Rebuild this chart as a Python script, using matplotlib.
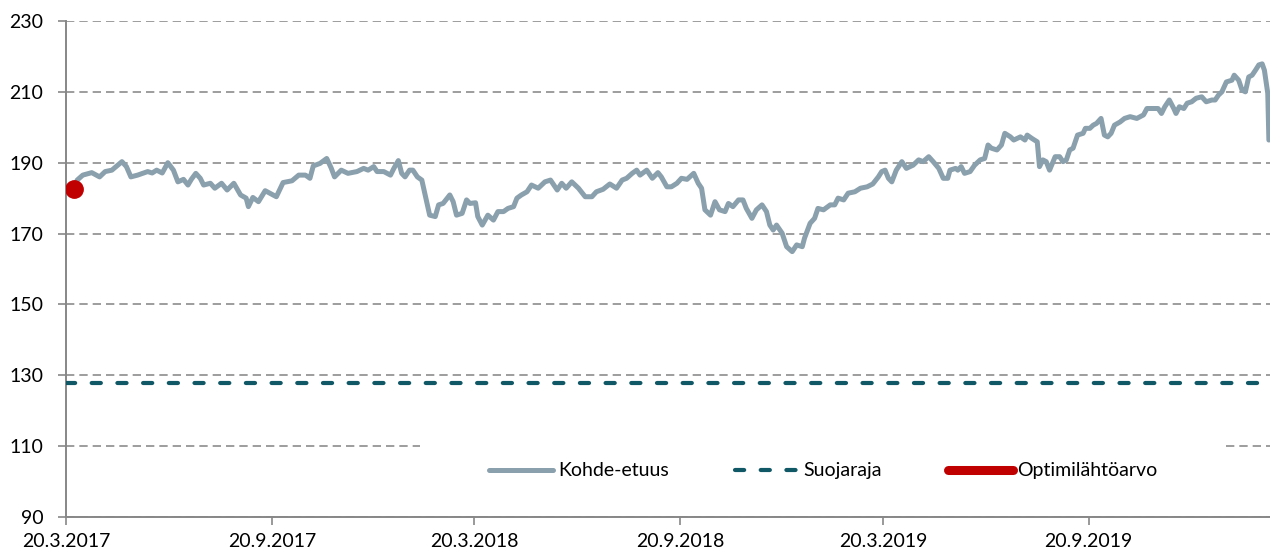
import matplotlib
matplotlib.use('Agg')
import matplotlib.pyplot as plt
from matplotlib.lines import Line2D
from matplotlib.patches import Rectangle
import pandas as pd

plt.rcParams['font.family'] = ['Lato', 'DejaVu Sans']
plt.rcParams['lines.scale_dashes'] = False

# ---------------- data ----------------
start_date = '2017-03-20'
end_date = '2020-02-29'

day_offsets = [
    7, 10, 15, 23, 30, 35, 41, 50, 54, 58, 64, 73, 77, 81, 86, 91, 96, 100, 105, 109,
    112, 116, 120, 123, 129, 133, 139, 144, 150, 156, 161, 163, 167, 172, 178, 185, 188, 194, 202, 208,
    214, 218, 221, 227, 233, 237, 240, 246, 252, 260, 266, 270, 275, 278, 284, 290, 293, 297, 300, 303,
    307, 310, 314, 318, 322, 325, 330, 333, 337, 343, 346, 349, 354, 358, 361, 366, 368, 372, 377, 382,
    386, 391, 395, 400, 403, 407, 412, 416, 422, 428, 433, 439, 443, 447, 452, 458, 464, 470, 474, 480,
    486, 492, 497, 501, 506, 510, 513, 519, 524, 529, 532, 537, 541, 546, 550, 555, 561, 565, 568, 571,
    576, 580, 584, 589, 592, 596, 601, 605, 608, 613, 617, 622, 626, 629, 632, 635, 640, 644, 649, 653,
    658, 660, 665, 669, 672, 677, 683, 687, 690, 695, 699, 705, 710, 716, 721, 726, 729, 732, 735, 738,
    742, 747, 751, 757, 762, 766, 771, 775, 780, 784, 788, 790, 795, 797, 800, 803, 808, 812, 817, 821,
    824, 827, 832, 836, 839, 844, 847, 853, 857, 859, 863, 868, 870, 873, 876, 879, 884, 888, 891, 894,
    897, 900, 904, 909, 911, 915, 918, 921, 925, 928, 931, 934, 937, 942, 946, 951, 957, 963, 966, 972,
    976, 979, 982, 986, 990, 992, 995, 999, 1002, 1006, 1010, 1015, 1019, 1024, 1027, 1030, 1033, 1037, 1042, 1044,
    1048, 1051, 1054, 1057, 1060, 1063, 1066, 1069, 1071, 1074, 1075,
]

underlying = [
    182.5, 185.1, 186.5, 187.2, 186.0, 187.5, 187.9, 190.3, 188.9, 186.0, 186.5, 187.5, 187.1, 187.9, 187.1, 190.0, 187.9, 184.6, 185.3, 183.7,
    185.3, 187.0, 185.6, 183.7, 184.2, 182.8, 184.2, 182.3, 184.2, 180.9, 180.0, 177.6, 180.2, 179.0, 182.1, 180.9, 180.4, 184.4, 184.9, 186.5,
    186.5, 185.6, 189.1, 189.8, 191.2, 188.5, 186.0, 187.9, 187.0, 187.5, 188.4, 187.9, 188.9, 187.5, 187.5, 186.5, 188.4, 190.6, 187.0, 186.0,
    187.9, 187.9, 186.0, 185.1, 179.5, 175.2, 174.8, 178.1, 178.5, 180.9, 179.0, 175.2, 175.7, 179.5, 178.5, 178.7, 174.8, 172.4, 175.2, 173.8,
    176.2, 176.2, 177.1, 177.6, 180.0, 180.9, 181.8, 183.7, 182.8, 184.6, 185.1, 182.3, 184.2, 182.8, 184.6, 182.8, 180.4, 180.4, 181.8, 182.5,
    184.0, 182.8, 185.1, 185.6, 187.0, 187.9, 186.5, 187.9, 185.6, 187.2, 186.0, 183.2, 183.2, 184.2, 185.6, 185.3, 187.0, 184.2, 182.8, 176.7,
    175.2, 179.0, 176.7, 176.2, 178.5, 177.6, 179.5, 179.5, 177.1, 174.3, 176.7, 178.1, 176.2, 172.4, 171.0, 172.4, 170.1, 166.3, 164.9, 166.8,
    166.3, 168.7, 172.9, 174.3, 177.1, 176.7, 178.1, 178.1, 180.0, 179.5, 181.4, 181.8, 182.8, 183.2, 184.0, 186.0, 187.5, 187.9, 185.6, 184.6,
    187.9, 190.3, 188.4, 189.3, 190.8, 190.3, 191.7, 190.3, 188.4, 185.6, 185.6, 187.9, 188.4, 187.9, 188.9, 187.0, 187.5, 189.3, 190.8, 191.2,
    195.0, 194.1, 193.6, 195.0, 198.3, 197.3, 196.4, 197.3, 196.4, 197.8, 196.9, 195.9, 188.9, 190.8, 190.3, 187.9, 191.7, 191.7, 190.3, 190.8,
    193.6, 194.1, 197.8, 198.3, 199.7, 199.7, 200.6, 201.1, 202.5, 197.8, 197.3, 198.3, 200.6, 201.5, 202.5, 203.0, 202.5, 203.5, 205.3, 205.3,
    205.3, 203.9, 205.8, 207.7, 205.3, 203.9, 205.8, 205.3, 206.8, 207.2, 208.2, 208.6, 207.2, 207.7, 207.7, 209.1, 210.0, 212.8, 213.3, 214.7,
    213.3, 210.5, 210.0, 214.2, 214.7, 216.1, 217.6, 217.9, 216.1, 209.6, 196.4,
]

barrier_level = 127.75
initial_day = 7
initial_value = 182.5

y_ticks = [90, 110, 130, 150, 170, 190, 210, 230]
x_tick_dates = ['2017-03-20', '2017-09-20', '2018-03-20', '2018-09-20', '2019-03-20', '2019-09-20']
x_tick_labels = ['20.3.2017', '20.9.2017', '20.3.2018', '20.9.2018', '20.3.2019', '20.9.2019']
series_names = ['Kohde-etuus', 'Suojaraja', 'Optimilähtöarvo']

# ---------------- styles ----------------
c_line = '#8aa0ad'
c_barrier = '#115867'
c_red = '#c00000'
c_axis = '#878787'
c_grid = '#8c8c8c'

t0 = pd.Timestamp(start_date)
dates = t0 + pd.to_timedelta(day_offsets, unit='D')
init_date = t0 + pd.Timedelta(days=initial_day)

fig = plt.figure(figsize=(12.7, 5.55), dpi=100)
ax = fig.add_axes([66 / 1270, 1 - 517 / 555, (1270 - 66) / 1270, (517 - 21) / 555])

ax.plot(dates, underlying, color=c_line, lw=3.6, solid_joinstyle='round',
        solid_capstyle='round', zorder=3)
ax.axhline(barrier_level, color=c_barrier, lw=3.0, linestyle=(0, (6.6, 11.9)),
           dash_capstyle='round', zorder=3)
ax.plot([init_date], [initial_value], 'o', color=c_red, ms=12.5, zorder=4)

ax.set_xlim(t0, pd.Timestamp(end_date))
ax.set_ylim(y_ticks[0], y_ticks[-1])
ax.set_yticks(y_ticks)
ax.set_xticks(pd.to_datetime(x_tick_dates))
ax.set_xticklabels(x_tick_labels)

ax.yaxis.grid(True, color=c_grid, lw=1.2, linestyle=(0, (6, 3.6)))
ax.set_axisbelow(True)

for s in ['top', 'right']:
    ax.spines[s].set_visible(False)
for s in ['left', 'bottom']:
    ax.spines[s].set_color(c_axis)
    ax.spines[s].set_linewidth(1.4)

ax.tick_params(axis='y', length=5.8, width=1.2, color=c_axis, pad=10.5,
               labelsize=14, labelcolor='black')
ax.tick_params(axis='x', length=5.8, width=1.2, color=c_axis, pad=6,
               labelsize=14, labelcolor='black')

# white legend background covering the grid
ax.add_patch(Rectangle((0.294, 0.03), 0.666, 0.17, transform=ax.transAxes,
                       facecolor='white', edgecolor='none', zorder=1))

handles = [
    Line2D([], [], color=c_line, lw=3.6, solid_capstyle='round'),
    Line2D([], [], color=c_barrier, lw=3.0, linestyle=(0, (6.6, 11.9)), dash_capstyle='round'),
    Line2D([], [], color=c_red, lw=6.5, solid_capstyle='round'),
]
ax.legend(handles, series_names, ncol=3, loc='center', bbox_to_anchor=(0.629, 0.093),
          frameon=False, fontsize=14, handlelength=3.3, handletextpad=0.25,
          columnspacing=3.4, borderaxespad=0)

fig.savefig('out.png', dpi=100)
